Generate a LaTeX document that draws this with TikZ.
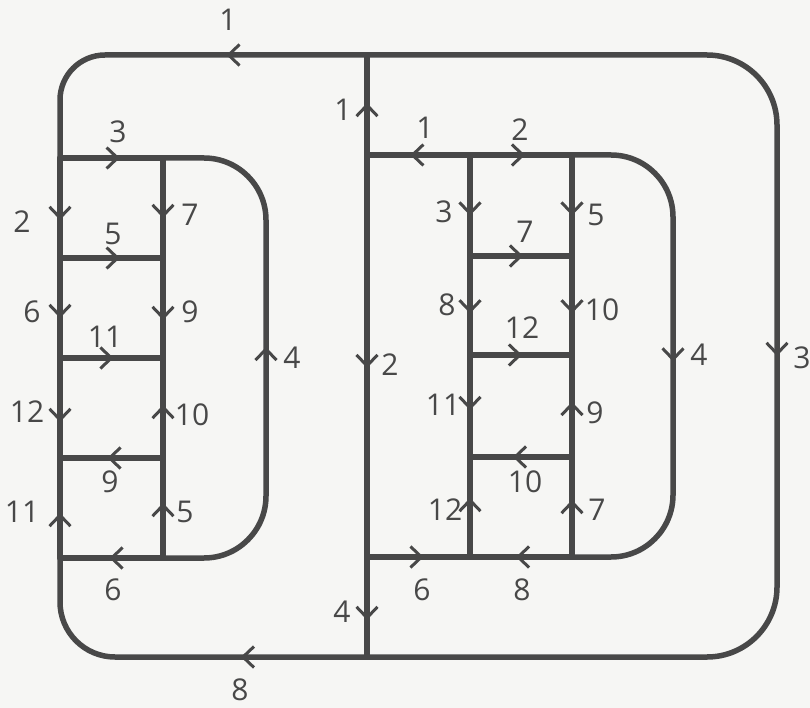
\documentclass[tikz,border=0pt]{standalone}
\usepackage{fontspec}
\setmainfont{Open Sans}
\usetikzlibrary{arrows.meta,decorations.markings}
\definecolor{ink}{RGB}{72,72,72}
\definecolor{paper}{RGB}{246,246,244}
\tikzset{
  edge/.style={draw=ink,line width=5.5pt,line cap=round,line join=round},
  arr/.style={postaction={decorate},decoration={markings,
     mark=at position #1 with {\arrow[ink]{Straight Barb[length=11pt,width=21pt,line width=3pt]}}}},
  lbl/.style={text=ink,font=\fontsize{30}{30}\selectfont,inner sep=0pt}
}
\begin{document}
\begin{tikzpicture}[x=1pt,y=-1pt]
\fill[paper] (0,0) rectangle (810,708);
\useasboundingbox (0,0) rectangle (810,708);
% named points
\coordinate (M1) at (367,55);
\coordinate (M2) at (367,155);
\coordinate (M3) at (367,557);
\coordinate (M4) at (367,657);
\foreach \i/\y in {0/158,1/258,2/358,3/458,4/558}{
  \coordinate (A\i) at (60,\y);
  \coordinate (B\i) at (163,\y);
}
\foreach \i/\y in {0/155,1/256,2/355,3/457,4/557}{
  \coordinate (C\i) at (470,\y);
  \coordinate (D\i) at (572,\y);
}
\coordinate (TL) at (60,55);
\coordinate (BL) at (60,657);
\coordinate (TR) at (777,55);
\coordinate (BR) at (777,657);
\coordinate (LTR) at (266,158);
\coordinate (LBR) at (266,558);
\coordinate (RTR) at (673,155);
\coordinate (RBR) at (673,557);
% outer loop
\draw[edge,arr=0.36,rounded corners=45pt] (M1) -- (TL) -- (A0);
\draw[edge,arr=0.5,rounded corners=70pt] (M1) -- (TR) -- (BR) -- (M4);
\draw[edge,arr=0.33,rounded corners=55pt] (M4) -- (BL) -- (A4);
% middle line
\draw[edge,arr=0.52] (M2) -- (M1);
\draw[edge,arr=0.53] (M2) -- (M3);
\draw[edge,arr=0.63] (M3) -- (M4);
% left structure
\draw[edge,arr=0.58] (A0) -- (B0);
\draw[edge,arr=0.58] (A1) -- (B1);
\draw[edge,arr=0.52] (A2) -- (B2);
\draw[edge,arr=0.54] (B3) -- (A3);
\draw[edge,arr=0.52] (B4) -- (A4);
\draw[edge,arr=0.62] (A0) -- (A1);
\draw[edge,arr=0.6] (A1) -- (A2);
\draw[edge,arr=0.64] (A2) -- (A3);
\draw[edge,arr=0.45] (A4) -- (A3);
\draw[edge,arr=0.6] (B0) -- (B1);
\draw[edge,arr=0.62] (B1) -- (B2);
\draw[edge,arr=0.53] (B3) -- (B2);
\draw[edge,arr=0.55] (B4) -- (B3);
\draw[edge,arr=0.52,rounded corners=62pt] (B4) -- (LBR) -- (LTR) -- (B0);
% right structure
\draw[edge,arr=0.58] (C0) -- (M2);
\draw[edge,arr=0.54] (C0) -- (D0);
\draw[edge,arr=0.6] (C0) -- (C1);
\draw[edge,arr=0.58] (C1) -- (C2);
\draw[edge,arr=0.54] (C2) -- (C3);
\draw[edge,arr=0.59] (C4) -- (C3);
\draw[edge,arr=0.6] (D0) -- (D1);
\draw[edge,arr=0.58] (D1) -- (D2);
\draw[edge,arr=0.54] (D3) -- (D2);
\draw[edge,arr=0.57] (D4) -- (D3);
\draw[edge,arr=0.52] (C1) -- (D1);
\draw[edge,arr=0.51] (C2) -- (D2);
\draw[edge,arr=0.58] (D3) -- (C3);
\draw[edge,arr=0.55] (M3) -- (C4);
\draw[edge,arr=0.55] (D4) -- (C4);
\draw[edge,arr=0.51,rounded corners=62pt] (D0) -- (RTR) -- (RBR) -- (D4);
% labels: outer
\node[lbl] (o1) at (228,20) {1};
\node[lbl] (o3) at (802,358) {3};
\node[lbl] (o8) at (240,690) {8};
\node[lbl] (m1) at (343,110) {1};
\node[lbl] (m2) at (390,365) {2};
\node[lbl] (m4) at (342,612) {4};
% labels: left
\node[lbl] (l3) at (118,132) {3};
\node[lbl] (l5a) at (113,234) {5};
\node[lbl] (l11a) at (105,337) {11};
\node[lbl] (l9a) at (110,482) {9};
\node[lbl] (l6a) at (113,590) {6};
\node[lbl] (l2) at (22,222) {2};
\node[lbl] (l6b) at (32,312) {6};
\node[lbl] (l12) at (27,412) {12};
\node[lbl] (l11b) at (22,512) {11};
\node[lbl] (l7) at (190,215) {7};
\node[lbl] (l9b) at (190,312) {9};
\node[lbl] (l10) at (192,415) {10};
\node[lbl] (l5b) at (185,512) {5};
\node[lbl] (l4) at (292,358) {4};
% labels: right
\node[lbl] (r1) at (425,128) {1};
\node[lbl] (r2) at (520,130) {2};
\node[lbl] (r3) at (444,212) {3};
\node[lbl] (r8a) at (447,305) {8};
\node[lbl] (r11) at (443,405) {11};
\node[lbl] (r12a) at (445,510) {12};
\node[lbl] (r5) at (596,215) {5};
\node[lbl] (r10a) at (602,310) {10};
\node[lbl] (r9) at (595,413) {9};
\node[lbl] (r7a) at (597,510) {7};
\node[lbl] (r7b) at (525,232) {7};
\node[lbl] (r12b) at (522,328) {12};
\node[lbl] (r10b) at (525,482) {10};
\node[lbl] (r6) at (422,590) {6};
\node[lbl] (r8b) at (522,590) {8};
\node[lbl] (r4) at (699,355) {4};
\end{tikzpicture}
\end{document}
